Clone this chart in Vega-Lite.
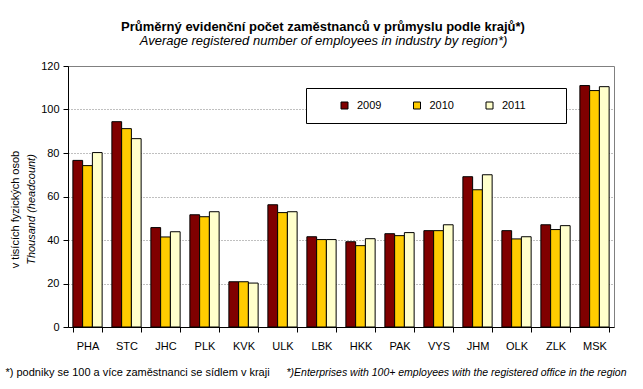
{
  "$schema": "https://vega.github.io/schema/vega-lite/v6.json",
  "width": 546,
  "height": 261,
  "autosize": "none",
  "padding": {"left": 68, "top": 66, "right": 29, "bottom": 62},
  "background": "white",
  "config": {
    "view": {"stroke": "#808080", "strokeWidth": 1},
    "font": "Liberation Sans"
  },
  "data": {
    "values": [
      {"region": "PHA", "year": "2009", "value": 76.6},
      {"region": "PHA", "year": "2010", "value": 74.2},
      {"region": "PHA", "year": "2011", "value": 80.2},
      {"region": "STC", "year": "2009", "value": 94.4},
      {"region": "STC", "year": "2010", "value": 91.2},
      {"region": "STC", "year": "2011", "value": 86.6},
      {"region": "JHC", "year": "2009", "value": 45.7},
      {"region": "JHC", "year": "2010", "value": 41.4},
      {"region": "JHC", "year": "2011", "value": 43.8},
      {"region": "PLK", "year": "2009", "value": 51.6},
      {"region": "PLK", "year": "2010", "value": 50.7},
      {"region": "PLK", "year": "2011", "value": 53.0},
      {"region": "KVK", "year": "2009", "value": 20.8},
      {"region": "KVK", "year": "2010", "value": 20.8},
      {"region": "KVK", "year": "2011", "value": 20.2},
      {"region": "ULK", "year": "2009", "value": 56.2},
      {"region": "ULK", "year": "2010", "value": 52.6},
      {"region": "ULK", "year": "2011", "value": 53.0},
      {"region": "LBK", "year": "2009", "value": 41.5},
      {"region": "LBK", "year": "2010", "value": 40.2},
      {"region": "LBK", "year": "2011", "value": 40.2},
      {"region": "HKK", "year": "2009", "value": 39.2},
      {"region": "HKK", "year": "2010", "value": 37.4},
      {"region": "HKK", "year": "2011", "value": 40.6},
      {"region": "PAK", "year": "2009", "value": 42.9},
      {"region": "PAK", "year": "2010", "value": 42.0},
      {"region": "PAK", "year": "2011", "value": 43.4},
      {"region": "VYS", "year": "2009", "value": 44.3},
      {"region": "VYS", "year": "2010", "value": 44.3},
      {"region": "VYS", "year": "2011", "value": 47.0},
      {"region": "JHM", "year": "2009", "value": 69.1},
      {"region": "JHM", "year": "2010", "value": 63.1},
      {"region": "JHM", "year": "2011", "value": 70.0},
      {"region": "OLK", "year": "2009", "value": 44.3},
      {"region": "OLK", "year": "2010", "value": 40.5},
      {"region": "OLK", "year": "2011", "value": 41.5},
      {"region": "ZLK", "year": "2009", "value": 47.0},
      {"region": "ZLK", "year": "2010", "value": 44.8},
      {"region": "ZLK", "year": "2011", "value": 46.6},
      {"region": "MSK", "year": "2009", "value": 111.0},
      {"region": "MSK", "year": "2010", "value": 108.7},
      {"region": "MSK", "year": "2011", "value": 110.5}
    ]
  },
  "layer": [
    {
      "mark": {"type": "bar", "stroke": "black", "strokeWidth": 1},
      "encoding": {
        "x": {
          "field": "region",
          "type": "nominal",
          "sort": null,
          "scale": {"paddingInner": 0.25, "paddingOuter": 0.125},
          "axis": {
            "orient": "bottom",
            "labelAngle": 0,
            "tickBand": "extent",
            "ticks": true,
            "tickSize": 5,
            "tickColor": "black",
            "domainColor": "black",
            "labelColor": "black",
            "labelFontSize": 11,
            "labelFont": "Liberation Sans",
            "labelPadding": 8,
            "title": "*) podniky se 100 a více zaměstnanci se sídlem v kraji",
            "titleFont": "Liberation Sans",
            "titleFontSize": 11,
            "titleFontWeight": "normal",
            "titleColor": "black",
            "titleX": -63,
            "titleY": 45,
            "titleAlign": "left",
            "titleBaseline": "middle"
          }
        },
        "xOffset": {"field": "year", "type": "nominal", "scale": {"paddingInner": 0}},
        "y": {
          "field": "value",
          "type": "quantitative",
          "scale": {"domain": [0, 120], "nice": false},
          "axis": {
            "orient": "left",
            "values": [0, 20, 40, 60, 80, 100, 120],
            "grid": true,
            "gridColor": "#808080",
            "gridDash": [1, 2],
            "tickSize": 5,
            "tickColor": "black",
            "domainColor": "black",
            "labelColor": "black",
            "labelFontSize": 11,
            "labelFont": "Liberation Sans",
            "labelPadding": 4,
            "title": "Thousand (headcount)",
            "titleFont": "Liberation Sans",
            "titleFontSize": 11,
            "titleFontStyle": "italic",
            "titleFontWeight": "normal",
            "titleColor": "black",
            "titlePadding": 4,
            "titleY": 143
          }
        },
        "color": {
          "field": "year",
          "type": "nominal",
          "scale": {"domain": ["2009", "2010", "2011"], "range": ["#800000", "#FFCC00", "#FFFFCC"]},
          "legend": {
            "title": "\u00a0",
            "titleOrient": "right",
            "titlePadding": 28,
            "orient": "none",
            "direction": "horizontal",
            "legendX": 238,
            "legendY": 22,
            "strokeColor": "black",
            "fillColor": "white",
            "padding": 12,
            "symbolType": "square",
            "symbolSize": 49,
            "symbolStrokeColor": "black",
            "symbolStrokeWidth": 1,
            "symbolOffset": 21,
            "columnPadding": 8.5,
            "labelFont": "Liberation Sans",
            "labelFontSize": 11,
            "labelColor": "black",
            "labelOffset": 7
          }
        }
      }
    },
    {
      "mark": {"type": "bar", "opacity": 0},
      "encoding": {
        "x": {
          "field": "region",
          "type": "nominal",
          "sort": null,
          "axis": {
            "orient": "bottom",
            "labels": false,
            "ticks": false,
            "domain": false,
            "grid": false,
            "title": "*)Enterprises with 100+ employees with the registered office in the region",
            "titleFont": "Liberation Sans",
            "titleFontSize": 10.5,
            "titleFontWeight": "normal",
            "titleFontStyle": "italic",
            "titleColor": "black",
            "titleX": 558,
            "titleY": 45,
            "titleAlign": "right",
            "titleBaseline": "middle"
          }
        },
        "y": {
          "field": "value",
          "type": "quantitative",
          "axis": {
            "orient": "left",
            "labels": false,
            "ticks": false,
            "domain": false,
            "grid": false,
            "title": "v tisících fyzických osob",
            "titleFont": "Liberation Sans",
            "titleFontSize": 11,
            "titleFontWeight": "normal",
            "titleColor": "black",
            "titlePadding": 48,
            "titleY": 143
          }
        }
      }
    },
    {
      "mark": {"type": "bar", "opacity": 0},
      "encoding": {
        "x": {
          "field": "region",
          "type": "nominal",
          "sort": null,
          "axis": {
            "orient": "top",
            "labels": false,
            "ticks": false,
            "domain": false,
            "grid": false,
            "title": "Průměrný evidenční počet zaměstnanců  v průmyslu podle krajů*)",
            "titleFont": "Liberation Sans",
            "titleFontSize": 13,
            "titleFontWeight": "bold",
            "titleColor": "black",
            "titleX": 254.5,
            "titleY": -40,
            "titleAlign": "center",
            "titleBaseline": "middle"
          }
        },
        "y": {"field": "value", "type": "quantitative", "axis": null}
      }
    },
    {
      "mark": {"type": "bar", "opacity": 0},
      "encoding": {
        "x": {
          "field": "region",
          "type": "nominal",
          "sort": null,
          "axis": {
            "orient": "top",
            "labels": false,
            "ticks": false,
            "domain": false,
            "grid": false,
            "title": "Average registered number of employees in industry by region*)",
            "titleFont": "Liberation Sans",
            "titleFontSize": 13,
            "titleFontWeight": "normal",
            "titleFontStyle": "italic",
            "titleColor": "black",
            "titleX": 255,
            "titleY": -25.5,
            "titleAlign": "center",
            "titleBaseline": "middle"
          }
        },
        "y": {"field": "value", "type": "quantitative", "axis": null}
      }
    }
  ],
  "resolve": {"axis": {"x": "independent", "y": "independent"}}
}
